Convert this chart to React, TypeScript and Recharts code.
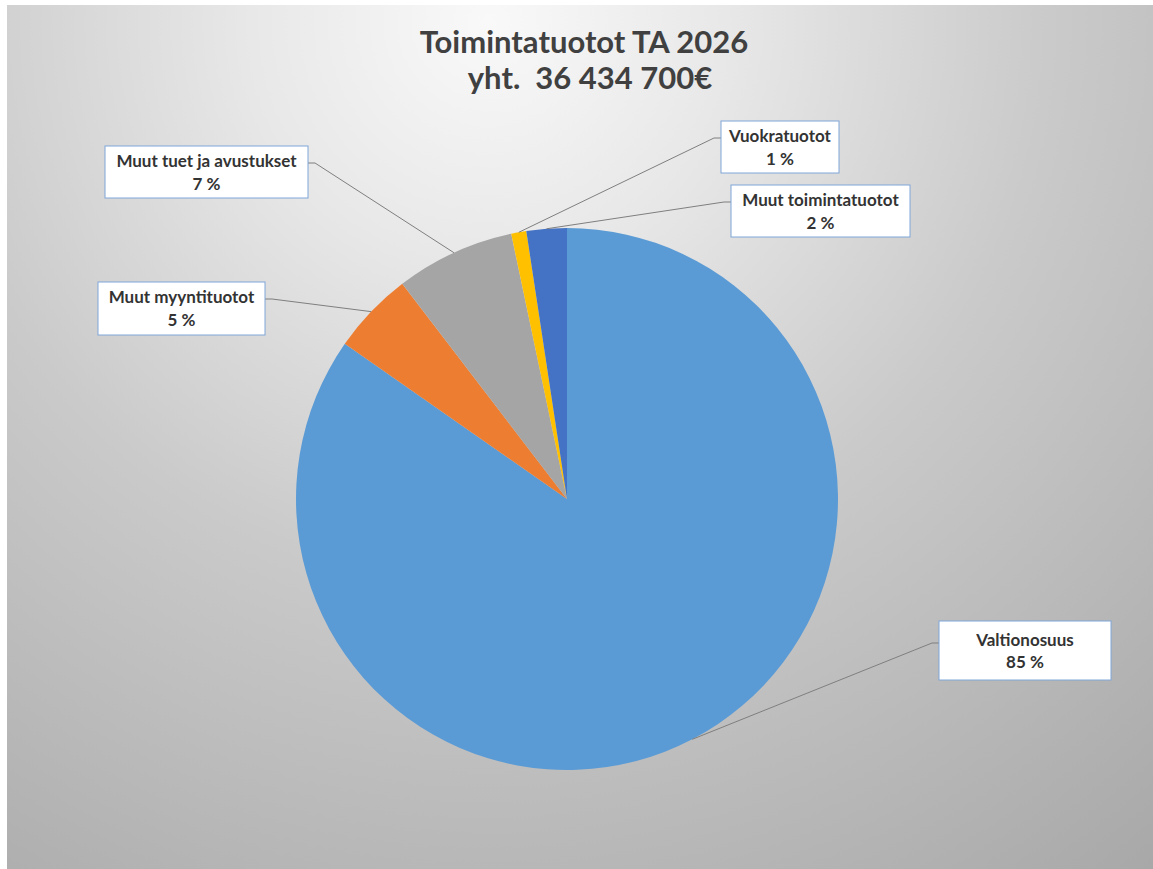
import { PieChart, Pie, Cell } from 'recharts'

// shares, in percent
const categories = [
  'Valtionosuus',
  'Muut myyntituotot',
  'Muut tuet ja avustukset',
  'Vuokratuotot',
  'Muut toimintatuotot'
]
const shares = [84.7, 4.9, 7.1, 0.9, 2.4]
const colors = ['#5b9bd5', '#ed7d31', '#a5a5a5', '#ffc000', '#4472c4']

const titleLines = ['Toimintatuotot TA 2026', 'yht.\u00a0 36 434 700€']

const data = categories.map((name, i) => ({ name, value: shares[i] }))

// where each data label box sits, relative to the pie centre
const labelBoxes: Record<string, { dx: number; dy: number; w: number; h: number; side: 'left' | 'right' }> = {
  Valtionosuus: { dx: 372, dy: 122, w: 172, h: 59, side: 'left' },
  'Muut myyntituotot': { dx: -469, dy: -217, w: 167, h: 53, side: 'right' },
  'Muut tuet ja avustukset': { dx: -462, dy: -353, w: 203, h: 52, side: 'right' },
  Vuokratuotot: { dx: 154, dy: -378, w: 118, h: 52, side: 'left' },
  'Muut toimintatuotot': { dx: 164, dy: -314, w: 179, h: 52, side: 'left' }
}

const FONT = 'Lato, "Open Sans", sans-serif'
const RAD = Math.PI / 180

const renderLabel = (props: any) => {
  const { cx, cy, midAngle, outerRadius, name, percent } = props
  const box = labelBoxes[name]
  if (!box) return null
  const left = cx + box.dx
  const top = cy + box.dy
  const ax = cx + outerRadius * Math.cos(-midAngle * RAD)
  const ay = cy + outerRadius * Math.sin(-midAngle * RAD)
  const tall = box.h > 55
  const ly = top + (tall ? 22 : 17)
  const sx = box.side === 'left' ? left : left + box.w
  const ex = box.side === 'left' ? sx - 7 : sx + 7
  const tx = left + box.w / 2
  return (
    <g key={name}>
      <polyline
        points={`${sx},${ly} ${ex},${ly} ${ax},${ay}`}
        fill="none"
        stroke="#7f7f7f"
        strokeWidth={1}
      />
      <rect x={left} y={top} width={box.w} height={box.h} fill="#ffffff" stroke="#7ea6d8" strokeWidth={1} />
      <text x={tx} y={top + (tall ? 25 : 21)} textAnchor="middle" fontFamily={FONT} fontWeight={700} fontSize={17} fill="#333333">
        {name}
      </text>
      <text x={tx} y={top + (tall ? 47 : 44)} textAnchor="middle" fontFamily={FONT} fontWeight={700} fontSize={17} fill="#333333">
        {`${Math.round(percent * 100)} %`}
      </text>
    </g>
  )
}

export default function App() {
  return (
    <div
      style={{
        position: 'absolute',
        left: 7,
        top: 5,
        width: 1146,
        height: 864,
        background:
          'radial-gradient(circle farthest-corner at 42% 2%, #f9f9f9 0%, #e8e8e8 22%, #cacaca 52%, #a8a8a8 100%)'
      }}
    >
      <div
        style={{
          position: 'absolute',
          left: 0,
          top: 18,
          width: 1154,
          textAlign: 'center',
          fontFamily: FONT,
          fontWeight: 700,
          fontSize: 31,
          lineHeight: '36px',
          color: '#404040'
        }}
      >
        <div>{titleLines[0]}</div>
        <div style={{ paddingLeft: 12 }}>{titleLines[1]}</div>
      </div>
      <PieChart width={1146} height={864} margin={{ top: 0, right: 0, bottom: 0, left: 0 }}>
        <Pie
          data={data}
          dataKey="value"
          nameKey="name"
          cx={560}
          cy={494}
          outerRadius={271}
          startAngle={90}
          endAngle={-270}
          stroke="none"
          label={renderLabel}
          labelLine={false}
          isAnimationActive={false}
        >
          {data.map((entry, i) => (
            <Cell key={entry.name} fill={colors[i]} />
          ))}
        </Pie>
      </PieChart>
    </div>
  )
}
